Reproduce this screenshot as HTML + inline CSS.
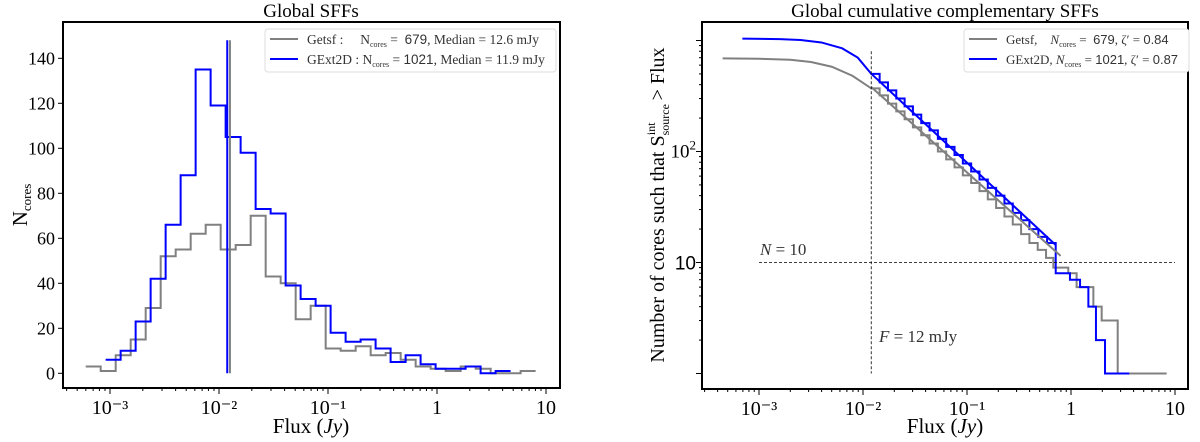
<!DOCTYPE html>
<html><head><meta charset="utf-8"><style>
body{margin:0;background:#fff;}
svg{display:block;font-family:"Liberation Serif",serif;}
</style></head><body>
<svg id="fig" width="1200" height="442" viewBox="0 0 1200 442" xmlns="http://www.w3.org/2000/svg"></svg>
<script>
// ---------- Left histogram data ----------
const histBinWidth = 0.1376; // decades per bin
const getsfFirstEdge = -3.223;
const getsfCounts = [3,1,8,15,29,52,55,62,66,55,57,70,43,40,24,30,11,10,12,8,9,6,3,2,1,3,2,0,0,1];
const gextFirstEdge = -3.04;
const gextCounts = [6,10,23,42,66,88,135,119,105,98,73,71,39,33,30,18,14,15,11,5,8,4,2,2,3,0,1];
const medianGetsf = 0.0126;
const medianGext = 0.0119;
const medianTop = 148;
const leftYTicks = [0,20,40,60,80,100,120,140];
const xTickExps = [-3,-2,-1,0,1];
const xTickLabels = ["10⁻³","10⁻²","10⁻¹","1","10"];
// ---------- Right cumulative data ----------
const getsfSmoothX = [-3.35,-3.0,-2.7,-2.5,-2.3,-2.1,-1.92];
const getsfSmoothN = [690,685,670,640,580,480,370];
const gextSmoothX = [-3.16,-2.8,-2.6,-2.4,-2.2,-2.05,-1.92];
const gextSmoothN = [1040,1030,1010,960,850,700,500];
const getsfStepX = [-1.92,-1.84,-1.76,-1.68,-1.60,-1.52,-1.44,-1.36,-1.28,-1.20,-1.12,-1.04,-0.96,-0.88,-0.80,-0.72,-0.64,-0.56,-0.48,-0.40,-0.32,-0.24,-0.17,-0.026,0.054,0.215,0.295,0.449,0.92];
const getsfStepN = [370,320,270,230,195,165,140,118,100,85,72,61,52,44,37,31,26,22,18,15,13,11,9,8,6,4,3,1];
const gextStepX = [-1.92,-1.84,-1.76,-1.68,-1.60,-1.52,-1.44,-1.36,-1.28,-1.20,-1.12,-1.04,-0.96,-0.88,-0.80,-0.72,-0.64,-0.56,-0.48,-0.40,-0.314,-0.23,-0.147,-0.01,0.087,0.167,0.24,0.327,0.56];
const gextStepN = [500,420,355,300,255,215,180,155,130,110,93,78,66,56,47,40,34,28,24,20,17,15,8,7,6,4,2,1];
const getsfFit = [[-1.92,2.58],[-0.10,1.06]];
const gextFit = [[-1.92,2.70],[-0.15,1.16]];
const refFlux = 0.012, refN = 10;

const NS="http://www.w3.org/2000/svg";
const svg=document.getElementById('fig');
function mk(tag,attrs,parent){const e=document.createElementNS(NS,tag);for(const k in attrs)e.setAttribute(k,attrs[k]);(parent||svg).appendChild(e);return e;}
function txt(s,attrs,parent){const e=mk('text',attrs,parent);e.textContent=s;return e;}

// ---- Left axes ----
const L={x0:63,x1:560,y0:22,y1:388};
const lx=lg=>110+(lg+3)*109;
const ly=v=>373.3-v*2.25;
const gl=mk('g',{});


leftYTicks.forEach(v=>{
  mk('line',{x1:L.x0-5,x2:L.x0,y1:ly(v),y2:ly(v),stroke:'#000'},gl);
  const t=txt(String(v),{x:L.x0-8,y:ly(v)+6,'text-anchor':'end','font-size':18},gl);
  
});
function xticks(g,fx,x0,x1,yb){
  for(let e=-4;e<=1;e++)for(let m=1;m<10;m++){const x=fx(e+Math.log10(m));if(x<x0||x>x1)continue;
    mk('line',{x1:x,x2:x,y1:yb,y2:yb+(m===1?6:3),stroke:'#000'},g);}
  xTickExps.forEach((e,i)=>{const x=fx(e);
    const t=txt(xTickLabels[i],{x:x,y:yb+26,'text-anchor':'middle','font-size':20},g);
    });
}
xticks(gl,lx,L.x0,L.x1,L.y1);
function hist(first,counts,color,name){
  let d='';counts.forEach((c,i)=>{const xa=lx(first+i*histBinWidth),xb=lx(first+(i+1)*histBinWidth);
    d+=(i===0?'M':'L')+xa+' '+ly(c)+' L'+xb+' '+ly(c)+' ';});
  const p=mk('path',{d:d,fill:'none',stroke:color,'stroke-width':2},gl);
  
}
hist(getsfFirstEdge,getsfCounts,'#808080','getsf-histogram');
hist(gextFirstEdge,gextCounts,'#0000ff','gext2d-histogram');
const m1=mk('line',{x1:lx(Math.log10(medianGetsf)),x2:lx(Math.log10(medianGetsf)),y1:ly(0),y2:ly(medianTop),stroke:'#808080','stroke-width':2},gl);

const m2=mk('line',{x1:lx(Math.log10(medianGext)),x2:lx(Math.log10(medianGext)),y1:ly(0),y2:ly(medianTop),stroke:'#0000ff','stroke-width':2},gl);

mk('rect',{x:L.x0,y:L.y0,width:L.x1-L.x0,height:L.y1-L.y0,fill:'none',stroke:'#000','stroke-width':2},gl);
const lgL=mk('g',{},gl);
mk('rect',{x:265,y:29,width:291,height:43,rx:3,fill:'#fff',stroke:'#ddd'},lgL);
mk('line',{x1:270,x2:298,y1:39,y2:39,stroke:'#808080','stroke-width':2},lgL);
mk('line',{x1:270,x2:298,y1:59,y2:59,stroke:'#0000ff','stroke-width':2},lgL);
const le1=txt('',{x:307,y:44,'font-size':13.5,fill:'#333'},lgL);
le1.innerHTML='Getsf :&#160;&#160;&#160;&#160; N<tspan font-size="8" dy="3">cores</tspan><tspan dy="-3"> = &#160;</tspan><tspan font-family="Liberation Sans,sans-serif">679</tspan>,  Median = 12.6 mJy';

const le2=txt('',{x:307,y:64,'font-size':13.5,fill:'#333'},lgL);
le2.innerHTML='GExt2D :  N<tspan font-size="8" dy="3">cores</tspan><tspan dy="-3"> = </tspan><tspan font-family="Liberation Sans,sans-serif">1021</tspan>,  Median = 11.9 mJy';

let t=txt('Global SFFs',{x:311,y:17,'text-anchor':'middle','font-size':19},gl);
t=txt('',{x:311,y:433,'text-anchor':'middle','font-size':21},gl);t.innerHTML='Flux (<tspan font-style="italic">Jy</tspan>)';

t=txt('',{x:0,y:0,'text-anchor':'middle','font-size':21,transform:'translate(27,205) rotate(-90)'},gl);
t.innerHTML='N<tspan font-size="13" dy="4">cores</tspan>';


// ---- Right axes ----
const R={x0:702,x1:1188,y0:22,y1:389};
const rx=lg=>759+(lg+3)*104;
const ryL=l=>262.5-(l-1)*111;
const ry=n=>ryL(Math.log10(n));
const gr=mk('g',{});
xticks(gr,rx,R.x0,R.x1,R.y1);
for(let e=0;e<=3;e++)for(let m=1;m<10;m++){const y=ry(m*Math.pow(10,e));if(y<R.y0||y>R.y1)continue;
  mk('line',{x1:R.x0-(m===1?6:3),x2:R.x0,y1:y,y2:y,stroke:'#000'},gr);}
t=txt('',{x:R.x0-6,y:ry(100)+6,'text-anchor':'end','font-size':19},gr);t.innerHTML='10<tspan font-size="13" dy="-8">2</tspan>';

t=txt('10',{x:R.x0-6,y:ry(10)+7,'text-anchor':'end','font-size':19,'font-family':'Liberation Sans,sans-serif'},gr);

function cum(sx,sn,stx,stn,color,name){
  let d='';sx.forEach((x,i)=>{d+=(i===0?'M':'L')+rx(x)+' '+ry(sn[i])+' ';});
  stn.forEach((n,i)=>{d+='L'+rx(stx[i])+' '+ry(n)+' L'+rx(stx[i+1])+' '+ry(n)+' ';});
  const p=mk('path',{d:d,fill:'none',stroke:color,'stroke-width':2},gr);
  
}
cum(getsfSmoothX,getsfSmoothN,getsfStepX,getsfStepN,'#808080','getsf-cumulative');
cum(gextSmoothX,gextSmoothN,gextStepX,gextStepN,'#0000ff','gext2d-cumulative');
let f=mk('line',{x1:rx(getsfFit[0][0]),y1:ryL(getsfFit[0][1]),x2:rx(getsfFit[1][0]),y2:ryL(getsfFit[1][1]),stroke:'#808080','stroke-width':2},gr);

f=mk('line',{x1:rx(gextFit[0][0]),y1:ryL(gextFit[0][1]),x2:rx(gextFit[1][0]),y2:ryL(gextFit[1][1]),stroke:'#0000ff','stroke-width':2},gr);

f=mk('line',{x1:rx(-3),x2:rx(1),y1:ry(refN),y2:ry(refN),stroke:'#000','stroke-width':0.8,'stroke-dasharray':'3,2'},gr);

f=mk('line',{x1:rx(Math.log10(refFlux)),x2:rx(Math.log10(refFlux)),y1:ry(800),y2:ry(1),stroke:'#000','stroke-width':0.8,'stroke-dasharray':'3,2'},gr);

t=txt('',{x:760,y:255,'font-size':17,fill:'#333'},gr);t.innerHTML='<tspan font-style="italic">N</tspan> = 10';

t=txt('',{x:879,y:342,'font-size':17,fill:'#333'},gr);t.innerHTML='<tspan font-style="italic">F</tspan> = 12 mJy';

mk('rect',{x:R.x0,y:R.y0,width:R.x1-R.x0,height:R.y1-R.y0,fill:'none',stroke:'#000','stroke-width':2},gr);
const lgR=mk('g',{},gr);
mk('rect',{x:964,y:29,width:225,height:43,rx:3,fill:'#fff',stroke:'#ddd'},lgR);
mk('line',{x1:969,x2:997,y1:39,y2:39,stroke:'#808080','stroke-width':2},lgR);
mk('line',{x1:969,x2:997,y1:59,y2:59,stroke:'#0000ff','stroke-width':2},lgR);
t=txt('',{x:1006,y:44,'font-size':13,fill:'#333'},lgR);
t.innerHTML='Getsf,&#160;&#160;&#160; <tspan font-style="italic">N</tspan><tspan font-size="8" dy="3">cores</tspan><tspan dy="-3"> = &#160;</tspan><tspan font-family="Liberation Sans,sans-serif">679</tspan>, ζ′ = <tspan font-family="Liberation Sans,sans-serif">0.84</tspan>';

t=txt('',{x:1006,y:64,'font-size':13,fill:'#333'},lgR);
t.innerHTML='GExt2D, <tspan font-style="italic">N</tspan><tspan font-size="8" dy="3">cores</tspan><tspan dy="-3"> = </tspan><tspan font-family="Liberation Sans,sans-serif">1021</tspan>, ζ′ = <tspan font-family="Liberation Sans,sans-serif">0.87</tspan>';

t=txt('Global cumulative complementary SFFs',{x:945,y:17,'text-anchor':'middle','font-size':19},gr);

t=txt('',{x:945,y:433,'text-anchor':'middle','font-size':21},gr);t.innerHTML='Flux (<tspan font-style="italic">Jy</tspan>)';

t=txt('',{x:0,y:0,'text-anchor':'middle','font-size':20,transform:'translate(664,205) rotate(-90)'},gr);
t.innerHTML='Number of cores such that S<tspan font-size="12" dy="5">source</tspan><tspan font-size="12" dx="-31" dy="-14">int</tspan><tspan dy="9" dx="17"> &gt; Flux</tspan>';

</script>
</body></html>
